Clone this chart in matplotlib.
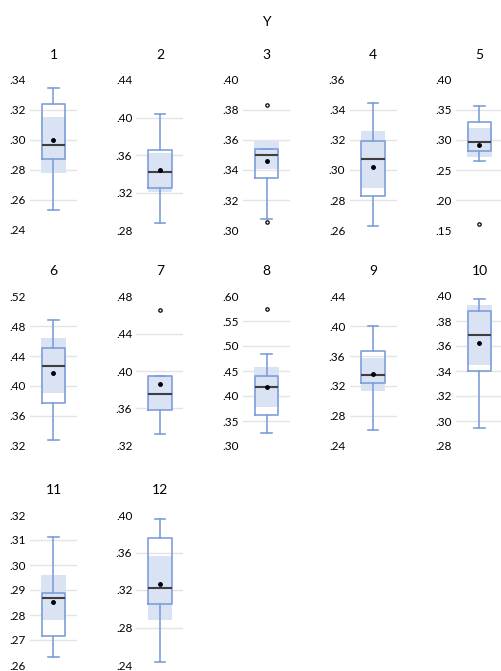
import matplotlib
matplotlib.use("Agg")
import matplotlib.pyplot as plt
import numpy as np
from matplotlib.ticker import FuncFormatter

plt.rcParams['font.family'] = ['Lato', 'DejaVu Sans']

# box statistics, one entry per panel
labels = [str(k) for k in range(1, 13)]
whislo = [.2536, .2875, .3076, .2629, .2650, .3279, .3323, .3263, .2616, .2946, .2634, .2432]
q1     = [.2873, .3252, .3349, .2824, .2817, .3768, .3581, .3618, .3237, .3399, .2715, .3054]
med    = [.2967, .3419, .3498, .3076, .2967, .4270, .3751, .4184, .3347, .3690, .2870, .3223]
q3     = [.3242, .3657, .3538, .3196, .3294, .4501, .3945, .4401, .3673, .3883, .2889, .3750]
whishi = [.3344, .4037, .3538, .3447, .3567, .4881, .3945, .4836, .4000, .3976, .3114, .3954]
means  = [.3000, .3436, .3462, .3020, .2922, .4169, .3864, .4178, .3365, .3626, .2852, .3265]
fliers = [[], [], [.3833, .3051], [], [.1594], [], [.4648], [.5750], [], [], [], []]
# shaded band behind each box
band_lo = [.2782, .3209, .3407, .2878, .2722, .3907, .3581, .3776, .3127, .3449, .2779, .2875]
band_hi = [.3153, .3625, .3596, .3258, .3194, .4637, .3945, .4572, .3576, .3928, .2959, .3564]
# axis ranges and tick steps
y_lo   = [.24, .28, .30, .26, .15, .32, .32, .30, .24, .28, .26, .24]
y_hi   = [.34, .44, .40, .36, .40, .52, .48, .60, .44, .40, .32, .40]
y_step = [.02, .04, .02, .02, .05, .04, .04, .05, .04, .02, .01, .04]

W, H = 502, 671
box_col = '#7F9ED9'
band_col = '#DAE3F3'
grid_col = '#E4E4E4'

fig = plt.figure(figsize=(W / 100, H / 100), dpi=100)
fig.text(266 / W, 1 - 22 / H, "Y", ha='center', va='center', fontsize=10)

row_top = [80, 296, 515]
fmt = FuncFormatter(lambda v, p: ("%.2f" % v)[1:])

for i in range(12):
    r, c = divmod(i, 5)
    left = 30 + 106.5 * c
    top = row_top[r]
    ax = fig.add_axes([left / W, 1 - (top + 150) / H, 47 / W, 150 / H])

    ticks = np.arange(y_lo[i], y_hi[i] + y_step[i] / 2, y_step[i])
    for t in ticks[1:-1]:
        ax.axhline(t, color=grid_col, lw=1.0, zorder=0)

    ax.bar(0, band_hi[i] - band_lo[i], bottom=band_lo[i], width=1.06,
           color=band_col, zorder=1)

    stats = [dict(med=med[i], q1=q1[i], q3=q3[i], whislo=whislo[i],
                  whishi=whishi[i], mean=means[i], fliers=fliers[i])]
    ax.bxp(stats, positions=[0], widths=1.02, capwidths=0.43, showmeans=True,
           boxprops=dict(color=box_col, lw=1.2),
           whiskerprops=dict(color=box_col, lw=1.2),
           capprops=dict(color=box_col, lw=1.2),
           medianprops=dict(color='#3F3F3F', lw=1.5),
           meanprops=dict(marker='o', markerfacecolor='black', markeredgecolor='black',
                          markersize=2.5),
           flierprops=dict(marker='o', markerfacecolor='white', markeredgecolor='black',
                           markersize=2.4, markeredgewidth=0.9),
           zorder=2)

    ax.set_xlim(-1, 1)
    ax.set_ylim(y_lo[i], y_hi[i])
    ax.set_yticks(ticks)
    ax.yaxis.set_major_formatter(fmt)
    ax.set_xticks([])
    ax.tick_params(axis='y', length=0, pad=3, labelsize=8.5)
    for s in ax.spines.values():
        s.set_visible(False)
    ax.patch.set_alpha(0)

    fig.text((left + 23.5) / W, 1 - (top - 25) / H, labels[i],
             ha='center', va='center', fontsize=10)

fig.savefig("out.png", dpi=100)
